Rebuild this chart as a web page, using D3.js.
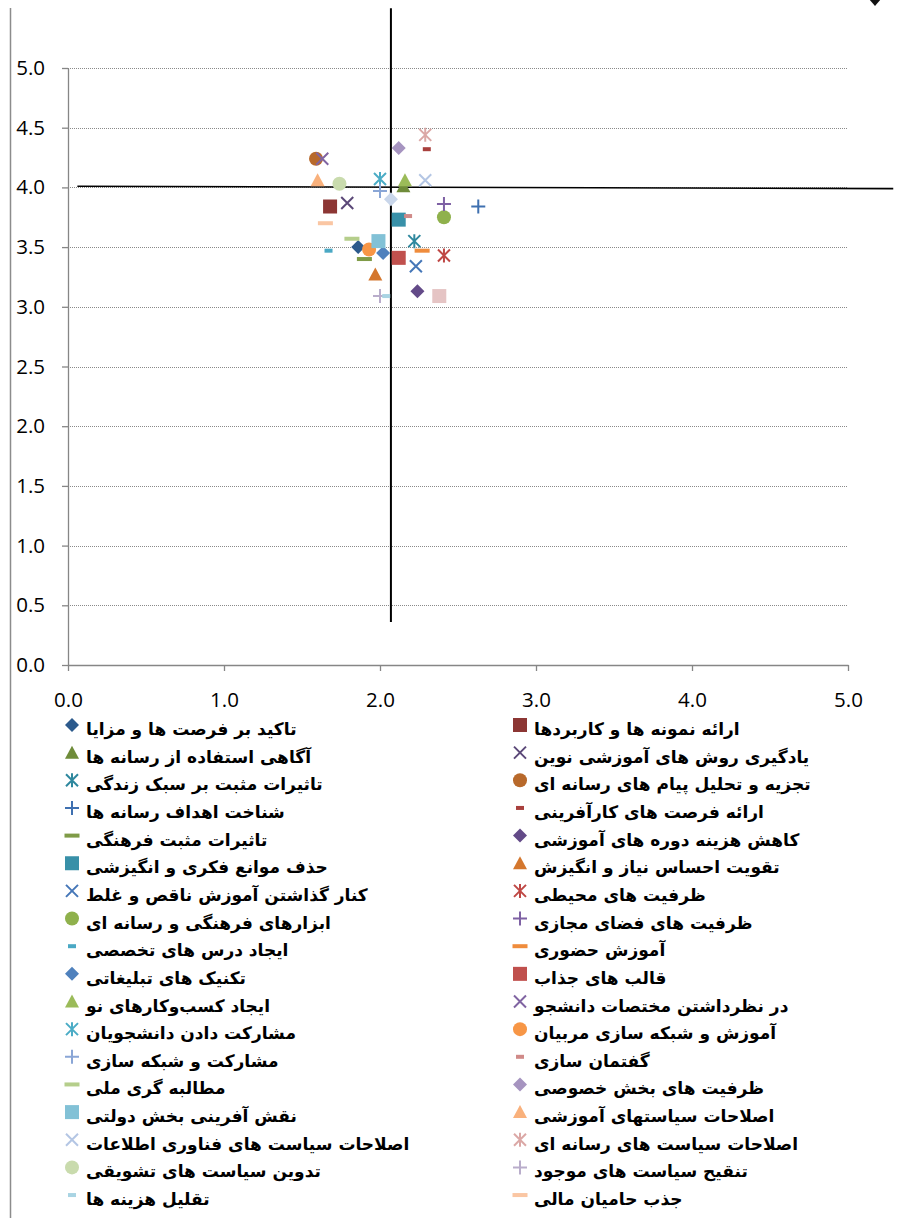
<!DOCTYPE html>
<html>
<head>
<meta charset="utf-8">
<script src="https://cdn.jsdelivr.net/npm/d3@7"></script>
<style>
  body { margin: 0; background: #fff; }
  svg { display: block; }
</style>
</head>
<body>
<svg id="chart"></svg>
<script>
// series labels (legend shows the first 36, the last two are cut off in the source)
const seriesNames = [
    "تاکید بر فرصت ها و مزایا", "ارائه نمونه ها و کاربردها",
    "آگاهی استفاده از رسانه ها", "یادگیری روش های آموزشی نوین",
    "تاثیرات مثبت بر سبک زندگی", "تجزیه و تحلیل پیام های رسانه ای",
    "شناخت اهداف رسانه ها", "ارائه فرصت های کارآفرینی",
    "تاثیرات مثبت فرهنگی", "کاهش هزینه دوره های آموزشی",
    "حذف موانع فکری و انگیزشی", "تقویت احساس نیاز و انگیزش",
    "کنار گذاشتن آموزش ناقص و غلط", "ظرفیت های محیطی",
    "ابزارهای فرهنگی و رسانه ای", "ظرفیت های فضای مجازی",
    "ایجاد درس های تخصصی", "آموزش حضوری",
    "تکنیک های تبلیغاتی", "قالب های جذاب",
    "ایجاد کسب‌وکارهای نو", "در نظرداشتن مختصات دانشجو",
    "مشارکت دادن دانشجویان", "آموزش و شبکه سازی مربیان",
    "مشارکت و شبکه سازی", "گفتمان سازی",
    "مطالبه گری ملی", "ظرفیت های بخش خصوصی",
    "نقش آفرینی بخش دولتی", "اصلاحات  سیاستهای آموزشی",
    "اصلاحات سیاست های فناوری اطلاعات", "اصلاحات سیاست های رسانه ای",
    "تدوین سیاست های تشویقی", "تنقیح سیاست های موجود",
    "تقلیل هزینه ها", "جذب حامیان مالی",
    null, null
];

const xValues = [
    1.86, 1.68, 2.15, 1.79, 2.22, 1.59, 2.63, 2.30, 1.90, 2.24,
    2.12, 1.97, 2.23, 2.41, 2.41, 2.41, 1.67, 2.27, 2.02, 2.12,
    2.16, 1.63, 2.00, 1.93, 2.00, 2.18, 1.82, 2.12, 1.99, 1.60,
    2.29, 2.29, 1.74, 2.00, 2.04, 1.65, 2.07, 2.38
];

const yValues = [
    3.50, 3.84, 4.01, 3.87, 3.55, 4.24, 3.84, 4.32, 3.40, 3.13,
    3.73, 3.27, 3.34, 3.43, 3.75, 3.86, 3.47, 3.47, 3.45, 3.41,
    4.06, 4.24, 4.07, 3.48, 3.97, 3.76, 3.57, 4.33, 3.55, 4.06,
    4.06, 4.44, 4.03, 3.09, 3.09, 3.70, 3.90, 3.09
];

const markerCycle = ["diamond", "square", "triangle", "x", "asterisk", "circle", "plus", "shortDash", "longDash"];

const seriesColors = [
    "#2c5a8c", "#8c3634", "#6f8c3a", "#5b4878", "#2f889e", "#b8692b",
    "#3f70b0", "#a8403d", "#7f9b47", "#634a88", "#3890a8", "#d4772e",
    "#4677b8", "#bf4845", "#8fb14c", "#7e61a4", "#4aa8c4", "#ef8c3c",
    "#4f81bd", "#c0504d", "#9bbb59", "#8064a2", "#4bacc6", "#f79646",
    "#8aa6d6", "#d08a88", "#b5ce8b", "#a694c0", "#82c1d6", "#f9b17c",
    "#b4c6e4", "#dba8a6", "#c9dbad", "#b9adcb", "#a9d4e3", "#fac6a3",
    "#c9d6ea", "#e5c4c4"
];

const xTicks = [0, 1, 2, 3, 4, 5];
const yTicks = [0, 0.5, 1, 1.5, 2, 2.5, 3, 3.5, 4, 4.5, 5];

// hand-drawn cross lines of the source figure, in data units
const crossV = {x1: 2.07, y1: 5.5, x2: 2.07, y2: 0.36};
const crossH = {x1: 0.06, y1: 4.01, x2: 5.29, y2: 3.99};

const width = 898, height = 1218;

const svg = d3.select("#chart")
    .attr("width", width)
    .attr("height", height)
    .attr("viewBox", `0 0 ${width} ${height}`);

const xScale = d3.scaleLinear().domain([0, 5]).range([68, 848]);
const yScale = d3.scaleLinear().domain([0, 5]).range([665, 68]);

// chart frame edge
svg.append("line")
    .attr("x1", 10.5).attr("x2", 10.5)
    .attr("y1", 8).attr("y2", height)
    .attr("stroke", "#8c8c8c")
    .attr("stroke-width", 1.5);

// little handle cut off at the top right
svg.append("path")
    .attr("d", "M869,-1L881,-1L875,6Z")
    .attr("fill", "#111");

// gridlines
svg.append("g")
    .selectAll("line")
    .data(yTicks.filter(d => d > 0))
    .enter().append("line")
    .attr("x1", xScale(0))
    .attr("x2", xScale(5))
    .attr("y1", d => Math.round(yScale(d)) + 0.5)
    .attr("y2", d => Math.round(yScale(d)) + 0.5)
    .attr("stroke", "#8a8a8a")
    .attr("stroke-width", 1)
    .attr("stroke-dasharray", "1,1");

// axes
const xAxis = d3.axisBottom(xScale)
    .tickValues(xTicks)
    .tickFormat(d3.format(".1f"))
    .tickSize(6)
    .tickSizeOuter(0);

const yAxis = d3.axisLeft(yScale)
    .tickValues(yTicks)
    .tickFormat(d3.format(".1f"))
    .tickSize(6)
    .tickSizeOuter(0)
    .tickPadding(17);

const gx = svg.append("g")
    .attr("transform", `translate(0,${yScale(0)})`)
    .call(xAxis);

const gy = svg.append("g")
    .attr("transform", `translate(${xScale(0)},0)`)
    .call(yAxis);

[gx, gy].forEach(g => {
    g.select(".domain").attr("stroke", "#868686").attr("stroke-width", 1.3);
    g.selectAll(".tick line").attr("stroke", "#868686").attr("stroke-width", 1.3);
    g.selectAll("text")
        .attr("fill", "#000")
        .style("font-family", "'Open Sans', 'Liberation Sans', sans-serif")
        .style("font-size", "20.5px");
});
gx.selectAll("text").attr("y", 42).attr("dy", null);

// cross lines
svg.append("line")
    .attr("x1", xScale(crossV.x1)).attr("y1", yScale(crossV.y1))
    .attr("x2", xScale(crossV.x2)).attr("y2", yScale(crossV.y2))
    .attr("stroke", "#000").attr("stroke-width", 2);

svg.append("line")
    .attr("x1", xScale(crossH.x1)).attr("y1", yScale(crossH.y1))
    .attr("x2", xScale(crossH.x2)).attr("y2", yScale(crossH.y2))
    .attr("stroke", "#000").attr("stroke-width", 1.6);

// marker drawing
function drawMarker(g, type, color) {
    switch (type) {
        case "diamond":
            g.append("path").attr("d", "M0,-7L7,0L0,7L-7,0Z").attr("fill", color);
            break;
        case "square":
            g.append("rect").attr("x", -7).attr("y", -7).attr("width", 14).attr("height", 14).attr("fill", color);
            break;
        case "triangle":
            g.append("path").attr("d", "M0,-7L7,6L-7,6Z").attr("fill", color);
            break;
        case "circle":
            g.append("circle").attr("r", 7).attr("fill", color);
            break;
        case "x":
            g.append("path").attr("d", "M-6,-6L6,6M6,-6L-6,6")
                .attr("stroke", color).attr("stroke-width", 2).attr("fill", "none");
            break;
        case "asterisk":
            g.append("path").attr("d", "M-6,-6L6,6M6,-6L-6,6M0,-7L0,7")
                .attr("stroke", color).attr("stroke-width", 2).attr("fill", "none");
            break;
        case "plus":
            g.append("path").attr("d", "M-7,0L7,0M0,-7L0,7")
                .attr("stroke", color).attr("stroke-width", 2).attr("fill", "none");
            break;
        case "shortDash":
            g.append("rect").attr("x", -4).attr("y", -2).attr("width", 8).attr("height", 4).attr("fill", color);
            break;
        case "longDash":
            g.append("rect").attr("x", -7.5).attr("y", -2).attr("width", 15).attr("height", 4).attr("fill", color);
            break;
    }
}

const points = xValues.map((x, i) => ({
    x: x,
    y: yValues[i],
    type: markerCycle[i % markerCycle.length],
    color: seriesColors[i]
}));

svg.append("g")
    .selectAll("g")
    .data(points)
    .enter().append("g")
    .attr("transform", d => `translate(${xScale(d.x)},${yScale(d.y)})`)
    .each(function(d) { drawMarker(d3.select(this), d.type, d.color); });

// legend: two columns, row-major
const legendItems = seriesNames
    .map((name, i) => ({name, type: markerCycle[i % markerCycle.length], color: seriesColors[i], i}))
    .filter(d => d.name !== null);

const legendColX = [72, 520];
const legendTop = 725, legendStep = 27.65;

const legend = svg.append("g")
    .selectAll("g")
    .data(legendItems)
    .enter().append("g")
    .attr("transform", d => `translate(${legendColX[d.i % 2]},${legendTop + Math.floor(d.i / 2) * legendStep})`);

legend.each(function(d) { drawMarker(d3.select(this), d.type, d.color); });

legend.append("text")
    .attr("x", 14)
    .attr("y", 10)
    .style("font-family", "'DejaVu Sans', sans-serif")
    .style("font-weight", "bold")
    .style("font-size", "17px")
    .attr("fill", "#000")
    .text(d => d.name);
</script>
</body>
</html>
